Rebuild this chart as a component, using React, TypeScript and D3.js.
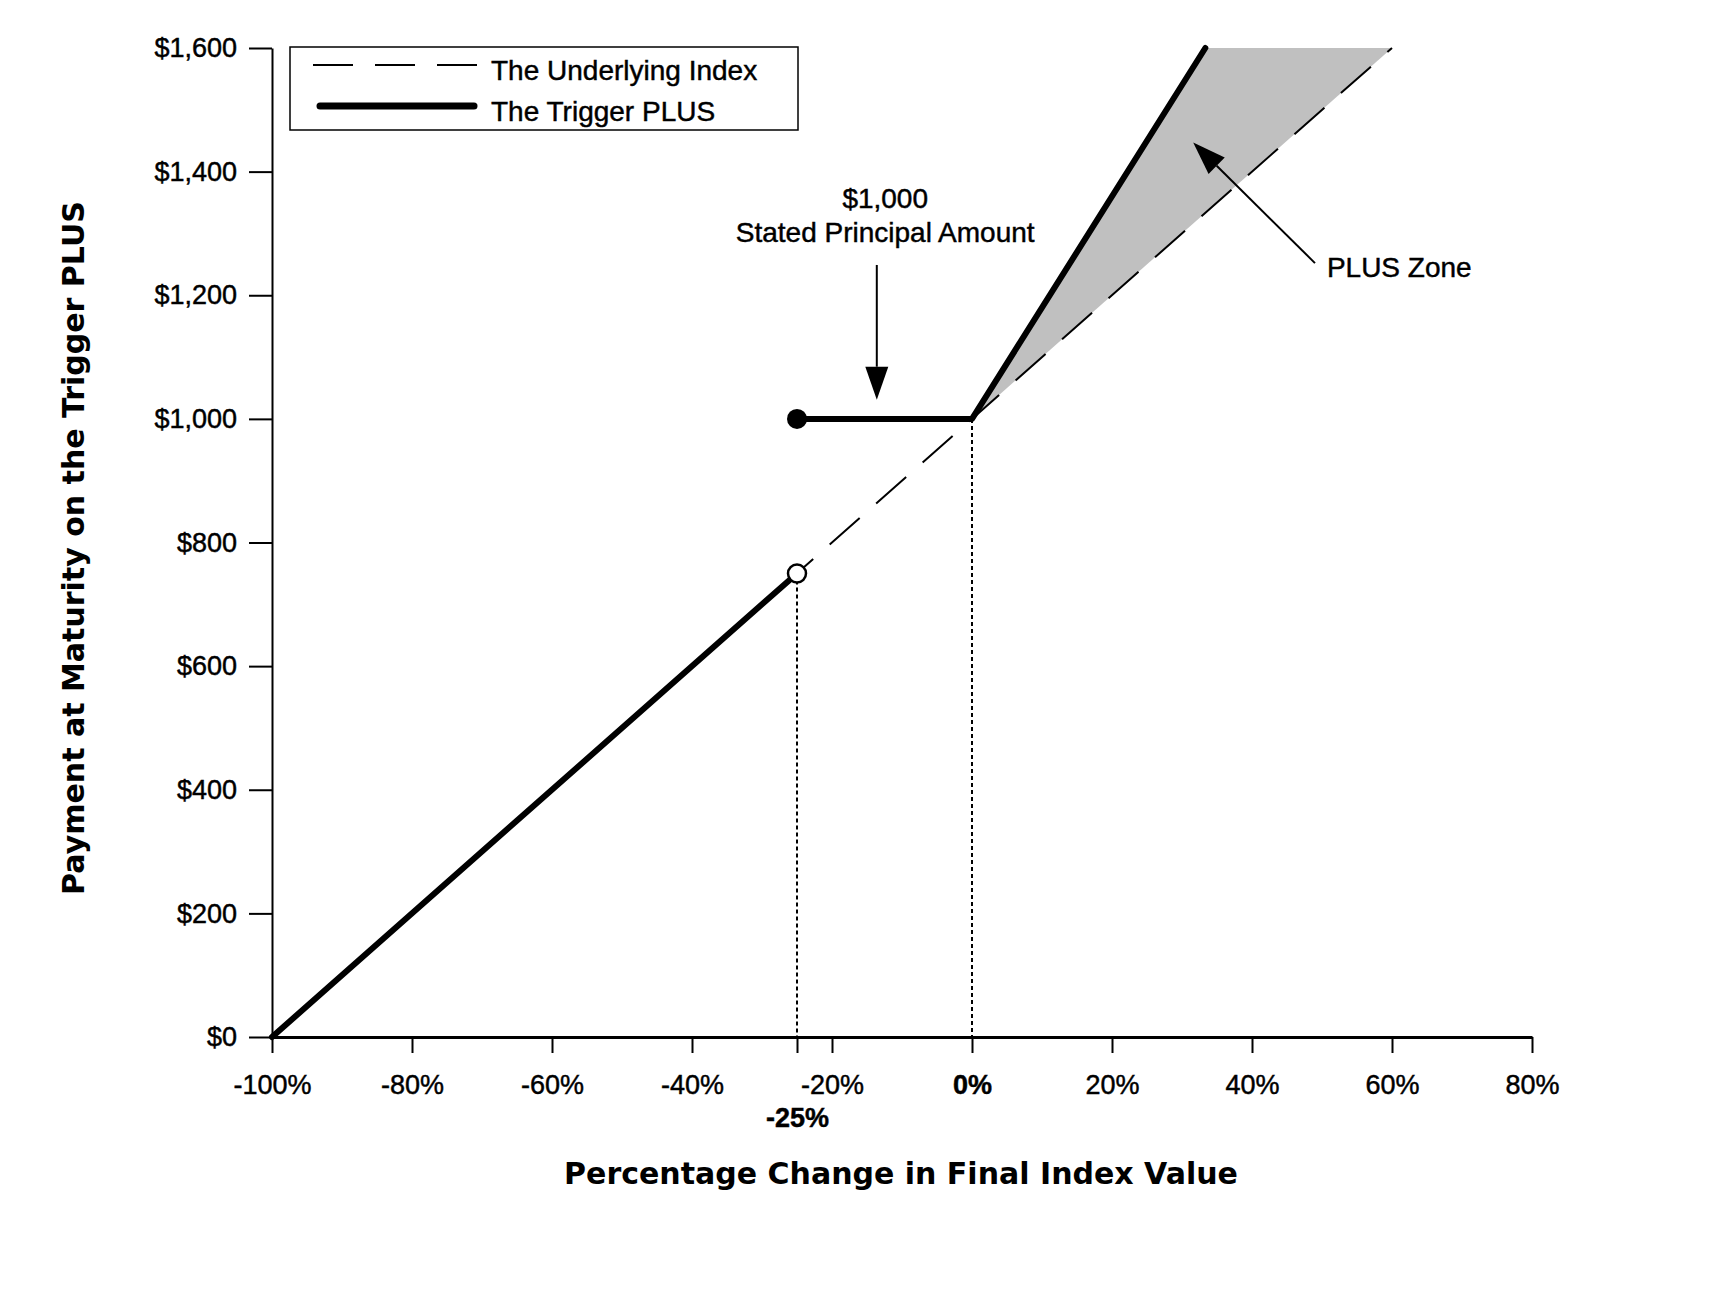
import * as d3 from 'd3';
import React, { useEffect, useRef } from 'react';

const WIDTH = 1736;
const HEIGHT = 1300;
const FONT = '"Liberation Sans", Arial, sans-serif';
const TITLE_FONT = '"DejaVu Sans", "Liberation Sans", Arial, sans-serif';

// axis ticks
const xTicks = [-100, -80, -60, -40, -20, 0, 20, 40, 60, 80];
const yTicks = [0, 200, 400, 600, 800, 1000, 1200, 1400, 1600];

// the underlying index (1:1)
const underlyingPct = [-100, 60];
const underlyingPay = [0, 1600];

// trigger PLUS payoff, below and at/above the trigger
const belowTriggerPct = [-100, -25];
const belowTriggerPay = [0, 750];
const aboveTriggerPct = [-25, 0, 33.33];
const aboveTriggerPay = [1000, 1000, 1600];

// shaded PLUS zone
const plusZonePct = [0, 33.33, 60];
const plusZonePay = [1000, 1600, 1600];

const triggerPct = -25;
const triggerLowPay = 750;
const principalPay = 1000;

// annotation anchors (data units)
const principalArrowPct = [-13.6, -13.6];
const principalArrowPay = [1249, 1031];
const principalLabelPct = -12.4;
const principalLabelPay = [1341, 1286];
const plusArrowPct = [49, 31.6];
const plusArrowPay = [1252, 1447];
const plusLabelPct = 50.7;
const plusLabelPay = 1230;

const App: React.FC = () => {
  const svgRef = useRef<SVGSVGElement>(null);

  useEffect(() => {
    if (!svgRef.current) { return; }
    const svg = d3.select(svgRef.current);
    svg.selectAll('*').remove();

    const x = d3.scaleLinear().domain([-100, 80]).range([272, 1532]);
    const y = d3.scaleLinear().domain([0, 1600]).range([1037, 48]);

    const line = d3.line<[number, number]>()
      .x(d => x(d[0]))
      .y(d => y(d[1]));
    const zip = (a: number[], b: number[]) => a.map((v, i) => [v, b[i]] as [number, number]);

    // heavier regular text, the source rendering is a bit thick
    const label = (sel: d3.Selection<SVGTextElement, any, any, any>, size = 28) =>
      sel.style('font-family', FONT)
        .style('font-size', `${size}px`)
        .attr('fill', '#000')
        .attr('stroke', '#000')
        .attr('stroke-width', 0.45);

    // PLUS zone
    svg.append('path')
      .datum(zip(plusZonePct, plusZonePay))
      .attr('d', d => line(d) + 'Z')
      .attr('fill', '#c0c0c0');

    // underlying index, dashed
    svg.append('path')
      .datum(zip(underlyingPct, underlyingPay))
      .attr('d', line)
      .attr('fill', 'none')
      .attr('stroke', '#000')
      .attr('stroke-width', 2)
      .attr('stroke-dasharray', '40,22');

    // dotted drop lines
    const drops: [number, number][] = [[triggerPct, triggerLowPay], [0, principalPay]];
    svg.selectAll('.drop')
      .data(drops)
      .enter().append('line')
      .attr('class', 'drop')
      .attr('x1', d => x(d[0]))
      .attr('x2', d => x(d[0]))
      .attr('y1', d => y(d[1]))
      .attr('y2', y(0))
      .attr('stroke', '#000')
      .attr('stroke-width', 2)
      .attr('stroke-dasharray', '4,3');

    // trigger PLUS payoff
    [zip(belowTriggerPct, belowTriggerPay), zip(aboveTriggerPct, aboveTriggerPay)].forEach(seg => {
      svg.append('path')
        .datum(seg)
        .attr('d', line)
        .attr('fill', 'none')
        .attr('stroke', '#000')
        .attr('stroke-width', 6)
        .attr('stroke-linecap', 'round')
        .attr('stroke-linejoin', 'round');
    });

    svg.append('circle')
      .attr('cx', x(triggerPct))
      .attr('cy', y(principalPay))
      .attr('r', 10)
      .attr('fill', '#000');

    svg.append('circle')
      .attr('cx', x(triggerPct))
      .attr('cy', y(triggerLowPay))
      .attr('r', 9)
      .attr('fill', '#fff')
      .attr('stroke', '#000')
      .attr('stroke-width', 2.5);

    // axes
    const yAxis = svg.append('g')
      .attr('transform', `translate(${x(-100)},0)`)
      .call(d3.axisLeft(y)
        .tickValues(yTicks)
        .tickSize(23)
        .tickSizeOuter(0)
        .tickPadding(12)
        .tickFormat(d => `$${d3.format(',')(d as number)}`));
    yAxis.select('.domain').attr('stroke-width', 2);
    yAxis.selectAll('.tick line').attr('stroke-width', 2);
    label(yAxis.selectAll<SVGTextElement, number>('text'), 27);

    const xAxis = svg.append('g')
      .attr('transform', `translate(0,${y(0)})`)
      .call(d3.axisBottom(x)
        .tickValues([...xTicks, triggerPct])
        .tickSize(16)
        .tickSizeOuter(0)
        .tickPadding(22)
        .tickFormat(d => `${d}%`));
    xAxis.select('.domain').attr('stroke-width', 2.8);
    xAxis.selectAll('.tick line').attr('stroke-width', 2);
    label(xAxis.selectAll<SVGTextElement, number>('text'), 27)
      .style('font-weight', d => (d === 0 || d === triggerPct) ? 'bold' : 'normal')
      .attr('y', d => d === triggerPct ? 71 : 38);

    // axis titles
    svg.append('text')
      .attr('x', 901)
      .attr('y', 1184)
      .attr('text-anchor', 'middle')
      .style('font-family', TITLE_FONT)
      .style('font-size', '30px')
      .style('font-weight', 'bold')
      .text('Percentage Change in Final Index Value');

    svg.append('text')
      .attr('transform', 'translate(84,548) rotate(-90)')
      .attr('text-anchor', 'middle')
      .style('font-family', TITLE_FONT)
      .style('font-size', '30px')
      .style('font-weight', 'bold')
      .text('Payment at Maturity on the Trigger PLUS');

    // arrows
    const arrow = (pcts: number[], pays: number[]) => {
      const x0 = x(pcts[0]), y0 = y(pays[0]);
      const x1 = x(pcts[1]), y1 = y(pays[1]);
      const len = Math.hypot(x1 - x0, y1 - y0);
      const ux = (x1 - x0) / len, uy = (y1 - y0) / len;
      const headLen = 33, headHalf = 11.5;
      const bx = x1 - ux * headLen, by = y1 - uy * headLen;
      svg.append('line')
        .attr('x1', x0).attr('y1', y0)
        .attr('x2', bx).attr('y2', by)
        .attr('stroke', '#000')
        .attr('stroke-width', 2);
      svg.append('path')
        .attr('d', `M${x1},${y1}L${bx - uy * headHalf},${by + ux * headHalf}L${bx + uy * headHalf},${by - ux * headHalf}Z`)
        .attr('fill', '#000');
    };
    arrow(principalArrowPct, principalArrowPay);
    arrow(plusArrowPct, plusArrowPay);

    ['$1,000', 'Stated Principal Amount'].forEach((t, i) => {
      label(svg.append('text')
        .attr('x', x(principalLabelPct))
        .attr('y', y(principalLabelPay[i]))
        .attr('text-anchor', 'middle')
        .text(t));
    });

    label(svg.append('text')
      .attr('x', x(plusLabelPct))
      .attr('y', y(plusLabelPay))
      .text('PLUS Zone'));

    // legend
    const legend = svg.append('g');
    legend.append('rect')
      .attr('x', 290).attr('y', 47)
      .attr('width', 508).attr('height', 83)
      .attr('fill', '#fff')
      .attr('stroke', '#000')
      .attr('stroke-width', 1.5);
    legend.append('line')
      .attr('x1', 313).attr('x2', 477)
      .attr('y1', 65).attr('y2', 65)
      .attr('stroke', '#000')
      .attr('stroke-width', 2)
      .attr('stroke-dasharray', '40,22');
    legend.append('line')
      .attr('x1', 320).attr('x2', 474)
      .attr('y1', 106).attr('y2', 106)
      .attr('stroke', '#000')
      .attr('stroke-width', 7)
      .attr('stroke-linecap', 'round');
    ['The Underlying Index', 'The Trigger PLUS'].forEach((t, i) => {
      label(legend.append('text')
        .attr('x', 491)
        .attr('y', 80 + i * 41)
        .text(t));
    });
  }, []);

  return (
    <svg
      ref={svgRef}
      width={WIDTH}
      height={HEIGHT}
      style={{ position: 'absolute', left: 0, top: 0, background: '#fff' }}
    />
  );
};

export default App;
